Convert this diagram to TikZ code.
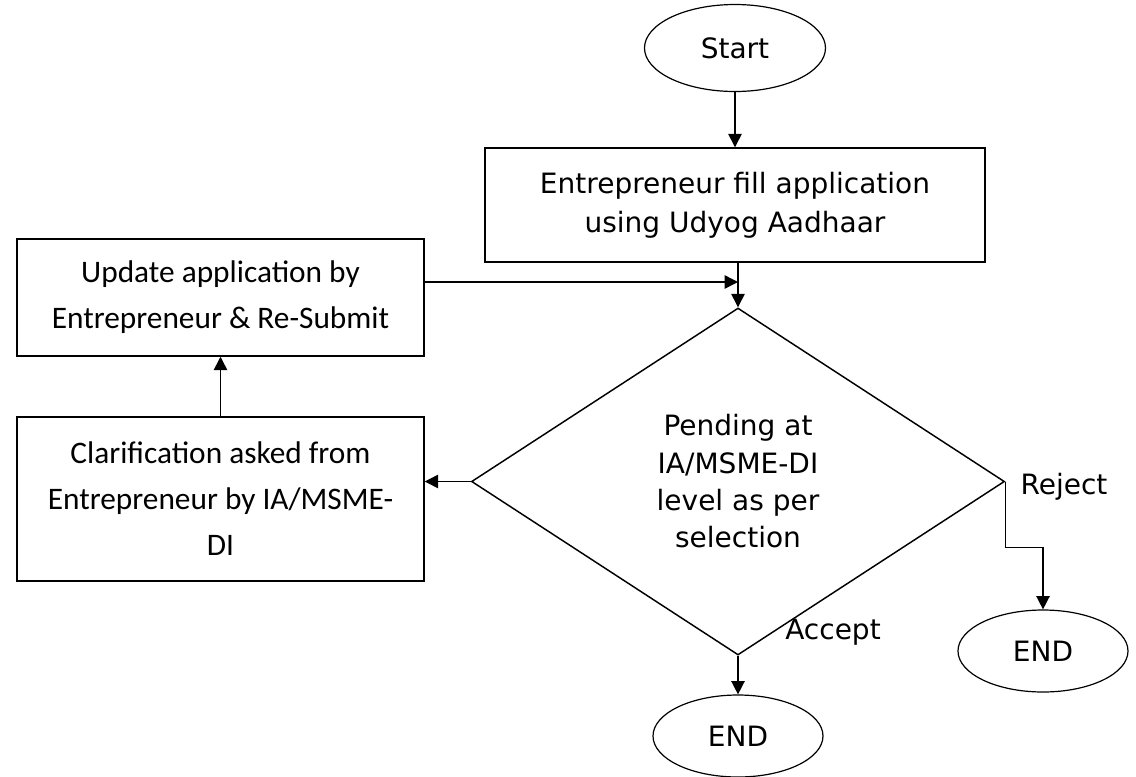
\documentclass[tikz,border=0pt]{standalone}
\usepackage{fontspec}
\setmainfont{DejaVu Sans}
\newfontfamily\calibfont{Carlito}
\usepackage{tikz}
\usetikzlibrary{arrows.meta,shapes.geometric}
\tikzset{
  basenode/.style = {align=center, inner sep=0pt, text centered, draw=black, line width=1.1pt},
  term_node/.style = {basenode, ellipse, line width=0.9pt, font=\fontsize{21}{29}\selectfont},
  step_node/.style = {basenode, rectangle, font=\fontsize{21}{29}\selectfont},
  side_node/.style = {basenode, rectangle, font=\calibfont\fontsize{23.5}{34.5}\selectfont, minimum width=305.25pt},
  dec_node/.style = {basenode, diamond, font=\fontsize{21}{28}\selectfont, minimum width=399.75pt, minimum height=260.25pt},
  label_node/.style = {inner sep=0pt, font=\fontsize{21}{29}\selectfont},
  flow/.style = {->, line width=1.1pt},
}

\begin{document}
\begin{tikzpicture}[x=0.75pt, y=-0.75pt, >={Triangle[length=10pt,width=10pt]}]
    \useasboundingbox (0,0) rectangle (1136,776);
    \node [term_node, minimum width=135.75pt, minimum height=65.25pt] (start) at (735,48) {Start};
    \node [step_node, minimum width=375pt, minimum height=85.5pt] (fill) at (735,205)
        {Entrepreneur fill application\\using Udyog Aadhaar};
    \node [dec_node] (pend) at (738,481.5) {Pending at\\IA/MSME-DI\\level as per\\selection};
    \node [side_node, minimum height=87.75pt] (upd) at (220.5,297.5)
        {Update application by\\Entrepreneur \& Re-Submit};
    \node [side_node, minimum height=123pt] (clar) at (220.5,499)
        {Clarification asked from\\Entrepreneur by IA/MSME-\\DI};
    \node [term_node, minimum width=127.5pt, minimum height=61.5pt] (end_a) at (738,736) {END};
    \node [term_node, minimum width=127.5pt, minimum height=61.5pt] (end_r) at (1043,651) {END};
    \node [label_node] (rej) at (1064,487) {Reject};
    \node [label_node] (acc) at (833,632) {Accept};
    \coordinate (join) at (738,282);

    \draw [flow] (start) -- (fill);
    \draw [flow] (pend.north |- fill.south) -- (pend.north);
    \draw [flow] (upd.east |- join) -- (join);
    \draw [flow] (pend.west) -- (pend.west -| clar.east);
    \draw [flow] (clar.north) -- (upd.south);
    \draw [flow] (pend.east) -- ++(0,66) -| (end_r.north);
    \draw [flow] (pend.south) -- (end_a.north);
\end{tikzpicture}
\end{document}
